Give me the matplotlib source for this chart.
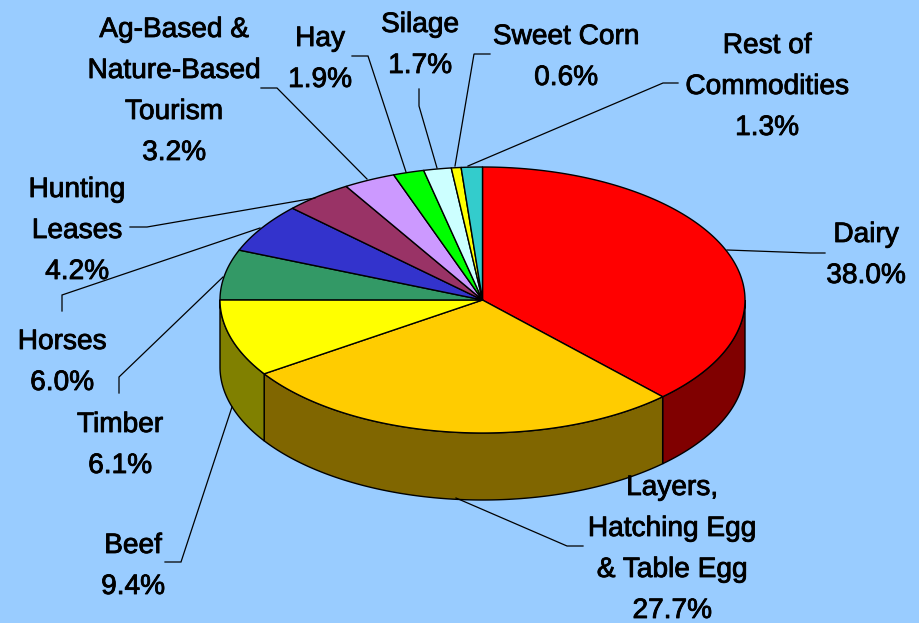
import numpy as np
import matplotlib
matplotlib.use("Agg")
import matplotlib.pyplot as plt
import matplotlib.patheffects as pe
from matplotlib.patches import Polygon

plt.rcParams["font.family"] = ["Liberation Sans", "DejaVu Sans"]

# Slices go clockwise from 12 o'clock
shares = [38.0, 27.7, 9.4, 6.1, 6.0, 4.2, 3.2, 1.9, 1.7, 0.6, 1.3]
top_colors = ["#FF0000", "#FFCC00", "#FFFF00", "#339966", "#3333CC", "#993366",
              "#CC99FF", "#00FF00", "#CCFFFF", "#FFFF00", "#33CCCC"]
side_colors = ["#800000", "#806600", "#808000", "#1A4D33", "#1A1A66", "#4D1A33",
               "#664D80", "#008000", "#668080", "#808000", "#1A6666"]
labels = [
    ["Dairy", "38.0%"],
    ["Layers,", "Hatching Egg", "& Table Egg", "27.7%"],
    ["Beef", "9.4%"],
    ["Timber", "6.1%"],
    ["Horses", "6.0%"],
    ["Hunting", "Leases", "4.2%"],
    ["Ag-Based &", "Nature-Based", "Tourism", "3.2%"],
    ["Hay", "1.9%"],
    ["Silage", "1.7%"],
    ["Sweet Corn", "0.6%"],
    ["Rest of", "Commodities", "1.3%"],
]

# Layout in pixels of the picture, label_pos is the first line's baseline
CX, CY = 482.5, 300
RX, RY = 262.5, 133
DEPTH = 67
LINE_H = 41
label_pos = [(866, 242), (672, 495), (133, 553), (120, 432), (62, 349), (77, 197),
             (174, 37), (320, 46), (420, 32), (566, 44), (767, 53)]
leaders = [
    [(727, 250), (810, 253), (825, 253)],
    [(456, 498), (567, 546), (583, 546)],
    [(232, 407), (181, 562), (165, 562)],
    [(223, 277), (119, 377), (119, 393)],
    [(260, 228), (62, 295), (62, 311)],
    [(315, 198), (147, 227), (130, 227)],
    [(367, 179), (277, 88), (261, 88)],
    [(406, 172), (368, 56), (352, 56)],
    [(437, 168), (419, 106), (419, 89)],
    [(455, 166), (474, 54), (490, 54)],
    [(468, 166), (663, 83), (678, 83)],
]


def rim(a0, a1, dy=0.0):
    # Points along the ellipse, angle in degrees clockwise from the top
    t = np.radians(np.linspace(a0, a1, max(int(a1 - a0) * 2, 2) + 1))
    return np.column_stack((CX + RX * np.sin(t), CY - RY * np.cos(t) + dy))


fig = plt.figure(figsize=(9.19, 6.23), dpi=100, facecolor="#99CCFF")
ax = fig.add_axes([0, 0, 1, 1])
ax.set_xlim(0, 919)
ax.set_ylim(623, 0)
ax.axis("off")

edges = np.concatenate(([0], np.cumsum(shares))) / sum(shares) * 360

# Side wall, only the front half of the disc shows
for i in range(len(shares)):
    a0, a1 = max(edges[i], 90), min(edges[i + 1], 270)
    if a1 <= a0:
        continue
    pts = np.vstack((rim(a0, a1), rim(a0, a1, DEPTH)[::-1]))
    ax.add_patch(Polygon(pts, closed=True, facecolor=side_colors[i], edgecolor="black", linewidth=1))

# Top face
for i in range(len(shares)):
    pts = np.vstack(([(CX, CY)], rim(edges[i], edges[i + 1])))
    ax.add_patch(Polygon(pts, closed=True, facecolor=top_colors[i], edgecolor="black",
                         linewidth=1, joinstyle="round"))

for pts in leaders:
    xs, ys = zip(*pts)
    ax.plot(xs, ys, color="black", linewidth=0.9, solid_joinstyle="miter")

for lines, (x, y) in zip(labels, label_pos):
    for j, line in enumerate(lines):
        ax.text(x, y + j * LINE_H, line, ha="center", va="baseline", fontsize=20.2, color="black",
                path_effects=[pe.withStroke(linewidth=0.6, foreground="black")])

fig.savefig("out.png", dpi=100, facecolor=fig.get_facecolor())
